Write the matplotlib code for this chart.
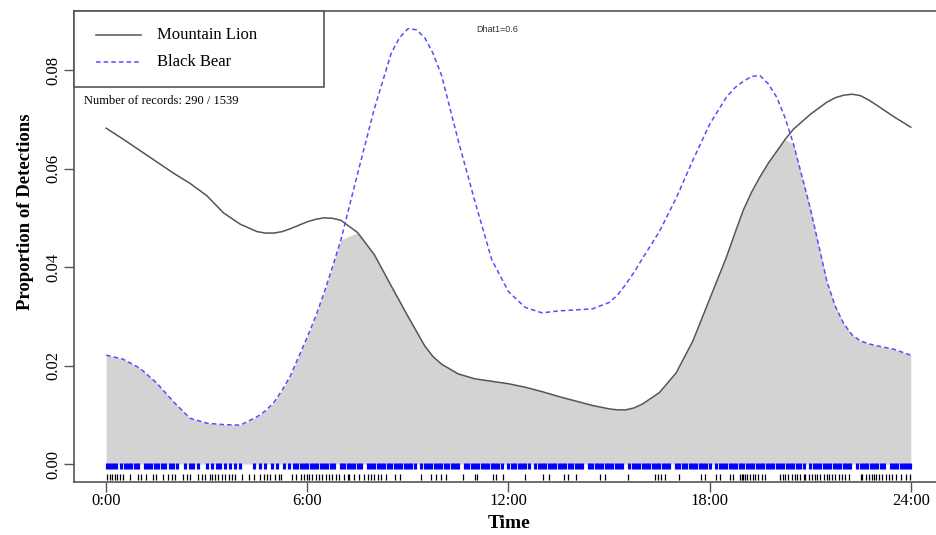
import numpy as np
import matplotlib
matplotlib.use("Agg")
import matplotlib.pyplot as plt
from matplotlib.patches import Rectangle
from matplotlib.lines import Line2D

# densités (demi-heure, plus fin près des sommets)
heures = [0.0, 0.5, 1.0, 1.5, 2.0, 2.5, 3.0, 3.5, 4.0, 4.5, 4.75, 5.0, 5.25, 5.5,
          6.0, 6.25, 6.5, 6.75, 7.0, 7.5, 8.0, 8.5, 8.75, 9.0, 9.25, 9.5, 9.75,
          10.0, 10.5, 11.0, 11.5, 12.0, 12.5, 13.0, 13.5, 14.0, 14.5, 15.0, 15.25,
          15.5, 15.75, 16.0, 16.5, 17.0, 17.5, 18.0, 18.5, 18.75, 19.0, 19.25,
          19.5, 19.75, 20.0, 20.25, 20.5, 21.0, 21.5, 21.75, 22.0, 22.25, 22.5,
          22.75, 23.0, 23.5, 24.0]

puma = [0.0682, 0.0660, 0.0637, 0.0614, 0.0591, 0.0570, 0.0545, 0.0510, 0.0487,
        0.0472, 0.0469, 0.0469, 0.0472, 0.0478, 0.0492, 0.0497, 0.0500, 0.0499,
        0.0495, 0.0470, 0.0425, 0.0362, 0.0331, 0.0300, 0.0270, 0.0240, 0.0218,
        0.0203, 0.0183, 0.0173, 0.0168, 0.0163, 0.0156, 0.0147, 0.0137, 0.0128,
        0.0119, 0.0112, 0.0110, 0.0110, 0.0114, 0.0122, 0.0145, 0.0185, 0.0250,
        0.0335, 0.0420, 0.0468, 0.0515, 0.0552, 0.0583, 0.0611, 0.0635, 0.0659,
        0.0680, 0.0710, 0.0735, 0.0744, 0.0749, 0.0751, 0.0748, 0.0739, 0.0728,
        0.0705, 0.0684]

ours = [0.0221, 0.0213, 0.0195, 0.0165, 0.0127, 0.0093, 0.0083, 0.0080, 0.0079,
        0.0096, 0.0108, 0.0125, 0.0150, 0.0180, 0.0258, 0.0300, 0.0348, 0.0400,
        0.0455, 0.0590, 0.0722, 0.0834, 0.0866, 0.0884, 0.0882, 0.0866, 0.0834,
        0.0790, 0.0657, 0.0533, 0.0415, 0.0350, 0.0318, 0.0307, 0.0311, 0.0313,
        0.0315, 0.0328, 0.0343, 0.0365, 0.0390, 0.0418, 0.0472, 0.0540, 0.0617,
        0.0690, 0.0745, 0.0764, 0.0777, 0.0787, 0.0789, 0.0772, 0.0745, 0.0703,
        0.0650, 0.0520, 0.0370, 0.0320, 0.0285, 0.0262, 0.0250, 0.0244, 0.0240,
        0.0233, 0.0221]

# heures des enregistrements (rug), lues approximativement
rug_puma = [0.02, 0.1, 0.18, 0.25, 0.32, 0.4, 0.5, 0.7, 0.95, 1.05, 1.2, 1.4, 1.5,
            1.7, 1.85, 1.95, 2.05, 2.3, 2.4, 2.5, 2.75, 2.85, 2.95, 3.1, 3.15, 3.25,
            3.35, 3.45, 3.55, 3.65, 3.75, 3.85, 4.05, 4.25, 4.4, 4.6, 4.7, 4.8, 4.9,
            5.05, 5.15, 5.2, 5.55, 5.65, 5.8, 5.9, 6.0, 6.05, 6.15, 6.25, 6.35, 6.45,
            6.55, 6.65, 6.75, 6.85, 6.95, 7.1, 7.2, 7.25, 7.4, 7.55, 7.7, 7.8, 7.9,
            8.0, 8.1, 8.2, 8.35, 8.6, 8.75, 9.39, 9.69, 9.84, 9.99, 10.14, 10.64,
            10.99, 11.07, 11.53, 11.63, 11.83, 12.48, 13.02, 13.22, 13.67, 13.77,
            14.02, 14.72, 14.87, 15.56, 16.36, 16.46, 16.56, 16.66, 17.10, 17.75,
            17.85, 18.2, 18.3, 18.6, 18.69, 18.9, 18.95, 19.0, 19.05, 19.1, 19.2,
            19.3, 19.35, 19.45, 19.55, 19.65, 20.1, 20.2, 20.25, 20.35, 20.45, 20.55,
            20.6, 20.7, 20.8, 20.85, 20.95, 21.05, 21.15, 21.2, 21.3, 21.4, 21.5,
            21.55, 21.65, 21.75, 21.85, 21.95, 22.05, 22.15, 22.5, 22.55, 22.65,
            22.75, 22.85, 22.9, 22.95, 23.05, 23.15, 23.25, 23.35, 23.45, 23.55,
            23.7, 23.85, 23.98]

rug_ours = [0.02, 0.1, 0.2, 0.3, 0.45, 0.55, 0.65, 0.75, 0.85, 0.95,
            1.15, 1.25, 1.35, 1.45, 1.55, 1.65, 1.75, 1.9, 2.0, 2.1,
            2.35, 2.5, 2.6, 2.75, 3.0, 3.15, 3.3, 3.4, 3.55, 3.7, 3.85, 4.0,
            4.4, 4.6, 4.75, 4.95, 5.1, 5.3, 5.45, 5.6, 5.7, 5.8, 5.9, 6.0,
            6.1, 6.2, 6.3, 6.4, 6.5, 6.6, 6.7, 6.8, 7.0, 7.1, 7.2, 7.3, 7.4,
            7.5, 7.6, 7.8, 7.9, 8.0, 8.1, 8.2, 8.3, 8.4, 8.5, 8.6, 8.7, 8.8,
            8.9, 9.0, 9.1, 9.2, 9.4, 9.5, 9.6, 9.7, 9.8, 9.9, 10.0, 10.1, 10.2,
            10.3, 10.4, 10.5, 10.7, 10.8, 10.9, 11.0, 11.1, 11.2, 11.3, 11.4,
            11.5, 11.6, 11.7, 11.8, 12.0, 12.1, 12.2, 12.3, 12.4, 12.5, 12.6,
            12.8, 12.9, 13.0, 13.1, 13.2, 13.3, 13.4, 13.5, 13.6, 13.7, 13.8,
            13.9, 14.0, 14.1, 14.2, 14.4, 14.5, 14.6, 14.7, 14.8, 14.9, 15.0,
            15.1, 15.2, 15.3, 15.4, 15.6, 15.7, 15.8, 15.9, 16.0, 16.1, 16.2,
            16.3, 16.4, 16.5, 16.6, 16.7, 16.8, 17.0, 17.1, 17.2, 17.3, 17.4,
            17.5, 17.6, 17.7, 17.8, 17.9, 18.0, 18.2, 18.3, 18.4, 18.5, 18.6,
            18.7, 18.8, 18.9, 19.0, 19.1, 19.2, 19.3, 19.4, 19.5, 19.6, 19.7,
            19.8, 19.9, 20.0, 20.1, 20.2, 20.3, 20.4, 20.5, 20.6, 20.7, 20.8,
            21.0, 21.1, 21.2, 21.3, 21.4, 21.5, 21.6, 21.7, 21.8, 21.9, 22.0,
            22.1, 22.2, 22.4, 22.5, 22.6, 22.7, 22.8, 22.9, 23.0, 23.1, 23.2,
            23.4, 23.5, 23.6, 23.7, 23.8, 23.9, 23.98]

xticks = [0, 6, 12, 18, 24]
xlabels = ["0:00", "6:00", "12:00", "18:00", "24:00"]
yticks = [0.00, 0.02, 0.04, 0.06, 0.08]

W, H = 937, 535
serif = ["Liberation Serif", "DejaVu Serif"]
plt.rcParams['font.family'] = serif

fig = plt.figure(figsize=(W / 100, H / 100), dpi=100)
# axe en pixels : gauche 74, droite 943 (hors image), haut 11, bas 482
ax = fig.add_axes([74 / W, 1 - 482 / H, (943 - 74) / W, (482 - 11) / H])

x = np.array(heures)
a = np.array(puma)
b = np.array(ours)

ax.fill_between(x, 0, np.minimum(a, b), color="#d3d3d3", lw=0, zorder=1)
ax.plot(x, a, color="#555555", lw=1.1, zorder=3)
ax.plot(x, b, color="#5050ff", lw=1.1, ls=(0, (3, 2)), zorder=3)

ax.vlines(rug_ours, -0.0010, 0.0002, color="#0000ff", lw=2.3, zorder=2)
ax.vlines(rug_puma, -0.0032, -0.0020, color="black", lw=0.9, zorder=2)

ax.set_xlim(-0.96, 24.96)
ax.set_ylim(-0.00365, 0.0920)

ax.set_xticks(xticks)
ax.set_xticklabels(xlabels)
ax.set_yticks(yticks)
ax.set_yticklabels(["%.2f" % v for v in yticks], rotation=90, va="center")
ax.tick_params(direction="out", length=7, width=1, color="#555555",
               labelsize=12)
ax.tick_params(axis="x", pad=1)
ax.tick_params(axis="y", pad=2)
for s in ax.spines.values():
    s.set_color("#555555")
    s.set_linewidth(1.2)

ax.set_xlabel("Time", fontsize=14, fontweight="bold", va="center")
ax.xaxis.set_label_coords(0.5 - 0.5 * (943 - 509 * 2 + 74) / 869, -(524 - 482) / 471)
ax.set_ylabel("Proportion of Detections", fontsize=13.5, fontweight="bold",
              va="center")
ax.yaxis.set_label_coords(-(74 - 26) / 869, (482 - 212) / 471)

# légende façon R, dessinée à la main (coordonnées pixels)
def fx(px):
    return px / W

def fy(py):
    return 1 - py / H

fig.patches.append(Rectangle((fx(74), fy(87)), fx(324) - fx(74), fy(11) - fy(87),
                             transform=fig.transFigure, fill=True, fc="white",
                             ec="#555555", lw=1.2, zorder=5))
fig.lines.append(Line2D([fx(96), fx(141)], [fy(35), fy(35)], transform=fig.transFigure,
                        color="#555555", lw=1.1, zorder=6))
fig.lines.append(Line2D([fx(96), fx(141)], [fy(62), fy(62)], transform=fig.transFigure,
                        color="#5050ff", lw=1.1, ls=(0, (3, 2)), zorder=6))
fig.text(fx(157), fy(35), "Mountain Lion", fontsize=12, va="center", ha="left", zorder=7)
fig.text(fx(157), fy(62), "Black Bear", fontsize=12, va="center", ha="left", zorder=7)

fig.text(fx(84), fy(101), "Number of records: 290 / 1539", fontsize=9, va="center",
         ha="left")
fig.text(fx(497), fy(30), "Dhat1=0.6", fontsize=6.5, va="center", ha="center",
         family=["Liberation Sans", "DejaVu Sans"], color="#333333")

fig.savefig("out.png", dpi=100)
plt.close(fig)
